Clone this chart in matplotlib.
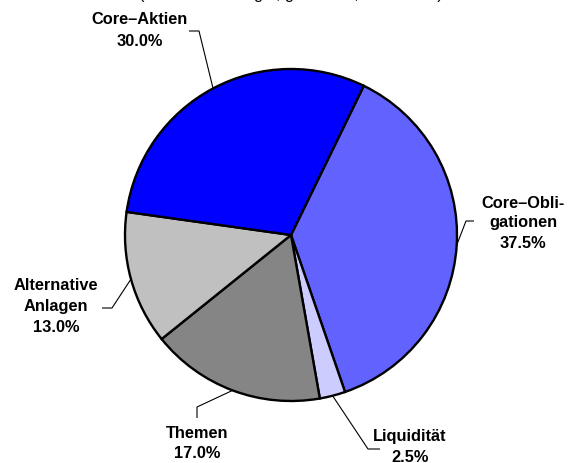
import numpy as np
import matplotlib
matplotlib.use("Agg")
import matplotlib.pyplot as plt

# ---- data ----
categories = ["Core–Obligationen", "Liquidität", "Themen", "Alternative Anlagen", "Core–Aktien"]
values = [37.5, 2.5, 17.0, 13.0, 30.0]
label_lines = [["Core–Obli-", "gationen", "37.5%"],
               ["Liquidität", "2.5%"],
               ["Themen", "17.0%"],
               ["Alternative", "Anlagen", "13.0%"],
               ["Core–Aktien", "30.0%"]]
colors = ["#6262FF", "#CCCCFF", "#858585", "#C0C0C0", "#0000FF"]
title = "(Portfolio-Strategie, gewichtet, in Prozent)"

W, H = 569, 463
fig = plt.figure(figsize=(W / 100, H / 100), dpi=100)
ax = fig.add_axes([0, 0, 1, 1])

def P(x, y):
    """pixel (from top-left) -> axes data coords"""
    return x, H - y

cx, cy = P(291, 235)
R = 166
wedges, _ = ax.pie(values, colors=colors, startangle=64, counterclock=False,
                   center=(cx, cy), radius=R, frame=False,
                   wedgeprops=dict(edgecolor="black", linewidth=1.7))
ax.set_xlim(0, W)
ax.set_ylim(0, H)
ax.set_axis_off()

# leader elbows/ends and text line positions (pixels, layout only)
leaders = [
    [(466, 221), (474, 221)],
    [(368, 449), (380, 449)],
    [(197, 407), (197, 418)],
    [(112, 308), (102, 308)],
    [(199, 31), (189, 31)],
]
text_pos = [
    (523, [203, 222, 243]),
    (410, [437, 458]),
    (197, [433, 453]),
    (56, [286, 307, 328]),
    (140, [20, 42]),
]

font = dict(family=["Liberation Sans", "DejaVu Sans"], fontweight="bold", fontsize=11.8)
for w, lead, (tx, tys), lines in zip(wedges, leaders, text_pos, label_lines):
    ang = np.deg2rad((w.theta1 + w.theta2) / 2)
    ex, ey = cx + R * np.cos(ang), cy + R * np.sin(ang)
    xs = [ex] + [P(*p)[0] for p in lead]
    ys = [ey] + [P(*p)[1] for p in lead]
    ax.plot(xs, ys, color="black", lw=0.8, solid_capstyle="butt")
    for line, ty in zip(lines, tys):
        ax.text(tx, H - ty, line, ha="center", va="center", **font)

ax.text(291, H + 1.2, title, ha="center", va="baseline",
        family=["Liberation Sans", "DejaVu Sans"], fontsize=11.8, clip_on=False)

fig.savefig("out.png", dpi=100)
